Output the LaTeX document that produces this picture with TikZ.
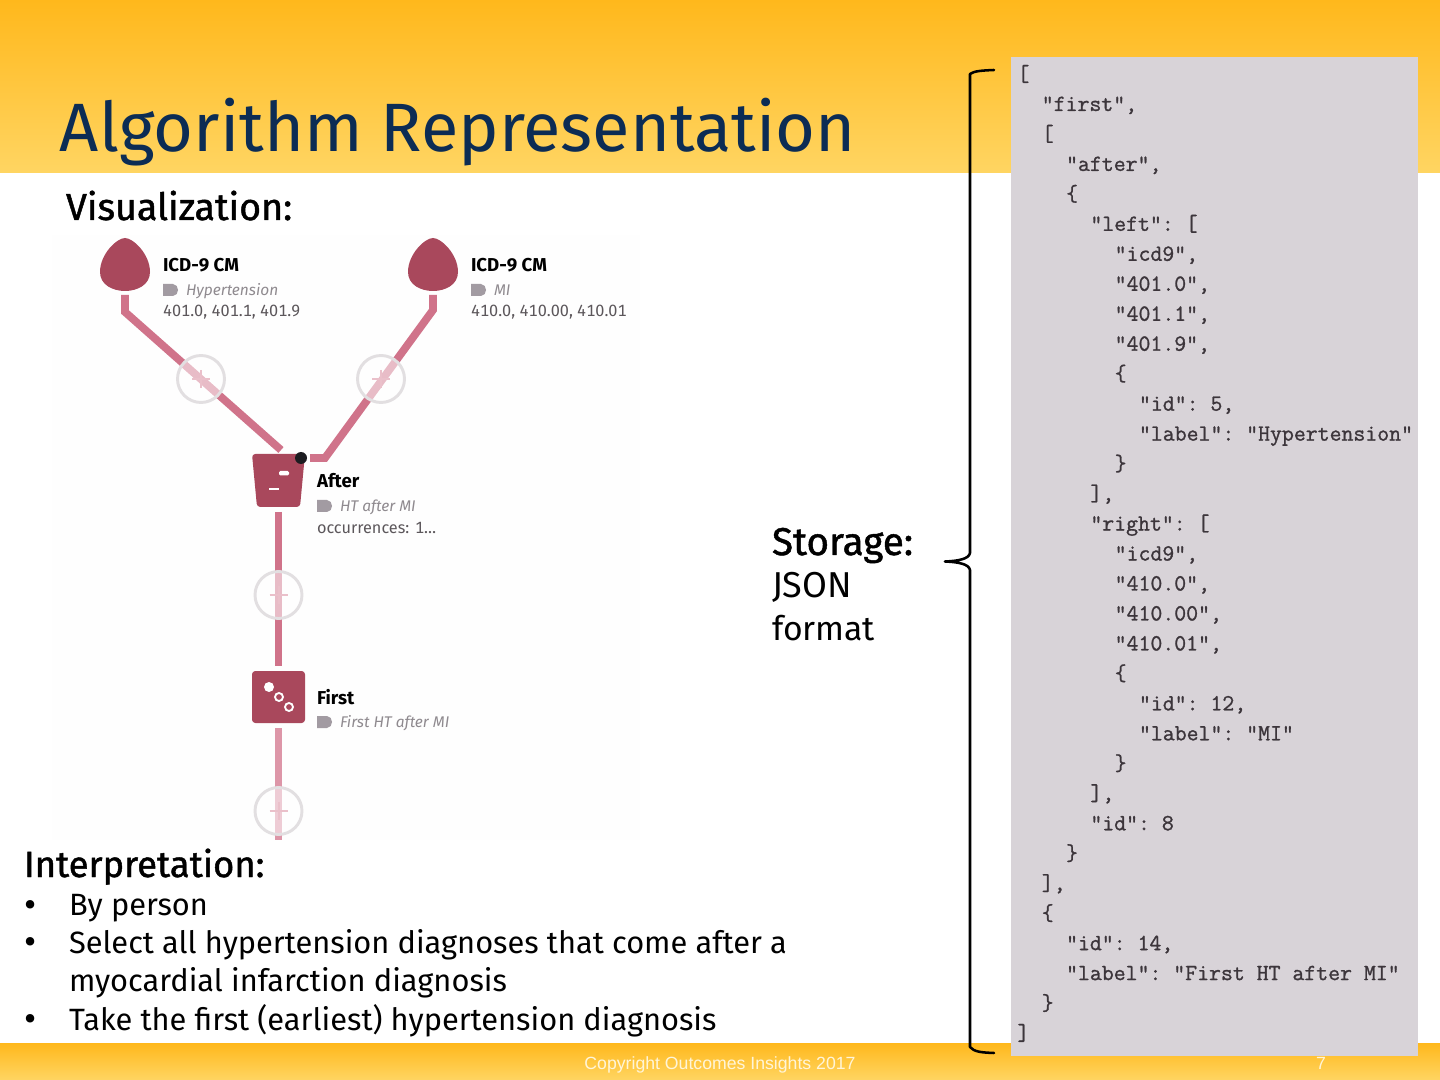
\documentclass[tikz,border=0pt]{standalone}
\usepackage{fontspec}
\setmainfont{Fira Sans}
\newfontfamily\fbold[FakeBold=1.2]{Fira Sans}
\newfontfamily\codef[Numbers=Monospaced]{Fira Sans}
\setmonofont[FakeBold=1.1]{Latin Modern Mono}
\newfontfamily\footf{Liberation Sans}
\usetikzlibrary{calc}
\definecolor{gold1}{HTML}{FFB81C}
\definecolor{gold2}{HTML}{FFD562}
\definecolor{navy}{HTML}{0C2C54}
\definecolor{panelgrey}{HTML}{D8D3D8}
\definecolor{jsoncol}{HTML}{3C353B}
\definecolor{nodered}{HTML}{A9485C}
\definecolor{linkred}{HTML}{D0738A}
\definecolor{linkfade}{HTML}{DD96A8}
\definecolor{ringgrey}{HTML}{E2DFE1}
\definecolor{taggrey}{HTML}{A29BA2}
\definecolor{subgrey}{HTML}{8F8A8F}
\definecolor{codegrey}{HTML}{5C575B}
\definecolor{dotdark}{HTML}{1C1C20}
\definecolor{panelwhite}{HTML}{FEFEFE}
\newcounter{jline}
\newcommand\jl[2]{\stepcounter{jline}\node[jsontext] (j\arabic{jline}) at ({1017.5+12.15*#1},{81+29.97*(\thejline-1)}) {#2};}
\newcommand\tagicon[1]{\fill[taggrey] ($(#1)+(-7.5,-6)$) -- ($(#1)+(2.5,-6)$) .. controls ($(#1)+(5.5,-6)$) and ($(#1)+(7.5,-3)$) .. ($(#1)+(7.5,0)$) .. controls ($(#1)+(7.5,3)$) and ($(#1)+(5.5,6)$) .. ($(#1)+(2.5,6)$) -- ($(#1)+(-7.5,6)$) -- cycle;}
\tikzset{
  txt/.style={anchor=base west,inner sep=0pt,outer sep=0pt},
  titletxt/.style={txt,text=navy,font=\fontsize{51.3}{51.3}\selectfont},
  headtxt/.style={txt,text=black,font=\fbold\fontsize{#1}{#1}\selectfont},
  bodytxt/.style={txt,text=black,font=\fontsize{23.1}{23.1}\selectfont},
  sidetxt/.style={txt,text=black,font=\fontsize{#1}{#1}\selectfont},
  bullettxt/.style={txt,text=black,font=\fontsize{28}{28}\selectfont},
  jsontext/.style={txt,text=jsoncol,font=\ttfamily\fontsize{17.35}{17.35}\selectfont},
  apphead/.style={txt,text=black,font=\bfseries\fontsize{14}{14}\selectfont},
  appsub/.style={txt,text=subgrey,font=\itshape\fontsize{11.6}{11.6}\selectfont},
  appcode/.style={txt,text=codegrey,font=\codef\fontsize{12.2}{12.2}\selectfont},
  footertxt/.style={anchor=base,inner sep=0pt,text=gold2!25!white,font=\footf\fontsize{13.25}{13.25}\selectfont},
  link/.style={draw=linkred,line width=5.8pt},
  linklow/.style={draw=linkfade,line width=5.8pt},
  addring/.style={circle,minimum size=47*0.75pt,inner sep=0pt,draw=ringgrey,line width=2.2pt,fill=white,fill opacity=.52,draw opacity=1},
  brace/.style={draw=black,line width=1.9pt,line cap=round,line join=round},
}
\begin{document}
\begin{tikzpicture}[x=0.75pt,y=-0.75pt]
\useasboundingbox (0,0) rectangle (1440,1080);
\fill[white] (0,0) rectangle (1440,1080);
\shade[top color=gold1,bottom color=gold2] (0,0) rectangle (1440,173);
\shade[top color=gold1,bottom color=gold2] (0,1043) rectangle (1440,1080);
\fill[panelwhite] (52,235) rectangle (640,840);

\node[titletxt] (title) at (60,152) {Algorithm Representation};
\node[headtxt=28.2] (vis) at (66,220) {Visualization:};
\node[headtxt=27.3] (interp) at (24,877) {Interpretation:};
\node[headtxt=29] (stor) at (772,555) {Storage:};
\node[sidetxt=27] (json) at (772,598) {JSON};
\node[sidetxt=25.3] (fmt) at (772,640) {format};

\node[bullettxt] (b1m) at (24.5,917) {•};
\node[bodytxt] (b1) at (69,915) {By person};
\node[bullettxt] (b2m) at (24.5,954) {•};
\node[bodytxt] (b2) at (69,953) {Select all hypertension diagnoses that come after a};
\node[bodytxt] (b2b) at (69,991) {myocardial infarction diagnosis};
\node[bullettxt] (b3m) at (24.5,1031) {•};
\node[bodytxt] (b3) at (69,1030) {Take the first (earliest) hypertension diagnosis};

% connector ends
\coordinate (l1) at (125,295);
\coordinate (l1b) at (125,312);
\coordinate (l1e) at (281,450);
\coordinate (r1) at (433,295);
\coordinate (r1b) at (433,310);
\coordinate (r1c) at (325,458);
\coordinate (r1e) at (310,458);
\coordinate (a1) at (278.5,512);
\coordinate (a2) at (278.5,666);
\coordinate (f1) at (278.5,728);
\coordinate (f2) at (278.5,840);
\draw[link,line join=miter] (l1) -- (l1b) -- (l1e);
\draw[link,line join=miter] (r1) -- (r1b) -- (r1c) -- (r1e);
\draw[link] (a1) -- (a2);
\draw[linklow] (f1) -- (f2);

% add buttons
\foreach \n/\x/\y in {p1/201/379,p2/381/379,p3/278.5/595,p4/278.5/811}{
  \node[addring] (\n) at (\x,\y) {};
  \draw[linkred!45,line width=1.5pt] ($(\n)+(-9,0)$) -- ($(\n)+(9,0)$) ($(\n)+(0,-9)$) -- ($(\n)+(0,9)$);
}

% ICD drops
\foreach \x in {125,433}{
  \fill[nodered] (\x,238) .. controls ({\x+8},238) and ({\x+25},254) .. ({\x+25},272)
     .. controls ({\x+25},285) and ({\x+12},291) .. (\x,291)
     .. controls ({\x-12},291) and ({\x-25},285) .. ({\x-25},272)
     .. controls ({\x-25},254) and ({\x-8},238) .. (\x,238) -- cycle;
}
% After
\fill[nodered,rounded corners=2.5pt] (252,454) -- (305,454) -- (300,507) -- (257,507) -- cycle;
\fill[white,rounded corners=1pt] (279,471) rectangle (289,475.5);
\fill[white] (269,488) rectangle (279,490);
\fill[dotdark] (301,458) circle (6);
% First
\fill[nodered,rounded corners=2.5pt] (252,671) rectangle (305,723);
\fill[white] (269,687) circle (5);
\draw[white,line width=1.4pt] (279,697) circle (4);
\draw[white,line width=1.4pt] (289,707) circle (4);

% app labels
\node[apphead] (h1) at (163,271.5) {ICD-9 CM};
\coordinate (t1) at (170.5,290); \tagicon{t1}
\node[appsub] (s1) at (186,295.5) {Hypertension};
\node[appcode] (c1) at (163,317) {401.0, 401.1, 401.9};
\node[apphead] (h2) at (471,271.5) {ICD-9 CM};
\coordinate (t2) at (478.5,290); \tagicon{t2}
\node[appsub] (s2) at (494,295.5) {MI};
\node[appcode] (c2) at (471,317) {410.0, 410.00, 410.01};
\node[apphead] (h3) at (317,488) {After};
\coordinate (t3) at (324.5,506); \tagicon{t3}
\node[appsub] (s3) at (340,511.5) {HT after MI};
\node[appcode] (c3) at (317,533.5) {occurrences: 1…};
\node[apphead] (h4) at (317,704) {First};
\coordinate (t4) at (324.5,722); \tagicon{t4}
\node[appsub] (s4) at (340,727.5) {First HT after MI};

% Storage brace
\draw[brace] (994,70) .. controls (982,70.5) and (974,71) .. (970,74) -- (970,553)
   .. controls (969,559) and (958,561) .. (945,561.5)
   .. controls (958,562) and (969,564) .. (970,570) -- (970,1047)
   .. controls (974,1052) and (982,1052.5) .. (994,1053);

% JSON panel
\fill[panelgrey] (1011,57) rectangle (1418,1056);
\jl{0}{[}
\jl{2}{"first",}
\jl{2}{[}
\jl{4}{"after",}
\jl{4}{\{}
\jl{6}{"left": [}
\jl{8}{"icd9",}
\jl{8}{"401.0",}
\jl{8}{"401.1",}
\jl{8}{"401.9",}
\jl{8}{\{}
\jl{10}{"id": 5,}
\jl{10}{"label": "Hypertension"}
\jl{8}{\}}
\jl{6}{],}
\jl{6}{"right": [}
\jl{8}{"icd9",}
\jl{8}{"410.0",}
\jl{8}{"410.00",}
\jl{8}{"410.01",}
\jl{8}{\{}
\jl{10}{"id": 12,}
\jl{10}{"label": "MI"}
\jl{8}{\}}
\jl{6}{],}
\jl{6}{"id": 8}
\jl{4}{\}}
\jl{2}{],}
\jl{2}{\{}
\jl{4}{"id": 14,}
\jl{4}{"label": "First HT after MI"}
\jl{2}{\}}
\jl{0}{]}

% footer
\node[footertxt] (foot) at (720,1069) {Copyright Outcomes Insights 2017};
\node[footertxt] (pg) at (1321,1069) {7};
\end{tikzpicture}
\end{document}
